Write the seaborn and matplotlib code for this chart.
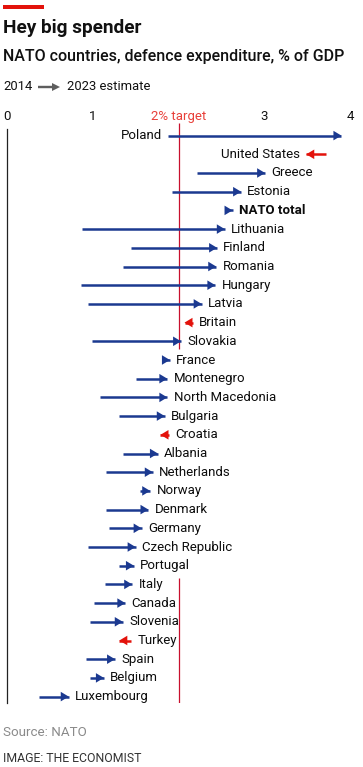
import matplotlib
matplotlib.use("Agg")
import matplotlib.pyplot as plt
from matplotlib.path import Path
from matplotlib.markers import MarkerStyle
from matplotlib.patches import Rectangle, FancyArrow
import seaborn as sns
import pandas as pd

countries = ["Poland", "United States", "Greece", "Estonia", "NATO total",
             "Lithuania", "Finland", "Romania", "Hungary", "Latvia", "Britain",
             "Slovakia", "France", "Montenegro", "North Macedonia", "Bulgaria",
             "Croatia", "Albania", "Netherlands", "Norway", "Denmark", "Germany",
             "Czech Republic", "Portugal", "Italy", "Canada", "Slovenia",
             "Turkey", "Spain", "Belgium", "Luxembourg"]
v2014 = [1.88, 3.72, 2.22, 1.93, 2.55, 0.88, 1.45, 1.35, 0.86, 0.94, 2.17,
         0.99, 1.81, 1.50, 1.09, 1.31, 1.89, 1.35, 1.15, 1.55, 1.15, 1.19,
         0.95, 1.31, 1.14, 1.01, 0.97, 1.45, 0.92, 0.97, 0.37]
v2023 = [3.90, 3.49, 3.01, 2.73, 2.63, 2.54, 2.45, 2.44, 2.43, 2.27, 2.07,
         2.03, 1.90, 1.87, 1.87, 1.84, 1.79, 1.76, 1.70, 1.67, 1.65, 1.57,
         1.50, 1.48, 1.46, 1.38, 1.35, 1.31, 1.26, 1.13, 0.72]
tick_values = [0, 1, 2, 3, 4]
tick_labels = ["0", "1", "2% target", "3", "4"]
target = 2.0
target_gap = ("Slovakia", "Italy")

BLUE = "#1b3990"
RED = "#e3120b"
LINE_RED = "#c8102e"

df = pd.DataFrame({"country": countries, "start": v2014, "end": v2023})
df["row"] = range(len(df))
df["up"] = df["end"] >= df["start"]

sns.set_theme(style="white")
plt.rcParams["font.family"] = ["Roboto", "DejaVu Sans"]

W, H = 363, 767
fig = plt.figure(figsize=(W / 100, H / 100), dpi=100)
ax_top, ax_bot = 129, 703
first_row, row_step = 135.6, 18.7
ax = fig.add_axes([7 / W, 1 - ax_bot / H, 343 / W, (ax_bot - ax_top) / H])
ax.set_xlim(0, 4)
ylo = (ax_bot - first_row) / row_step
yhi = -(first_row - ax_top) / row_step
ax.set_ylim(ylo, yhi)

# target line, interrupted where labels cross it
r_a = df.loc[df.country == target_gap[0], "row"].iloc[0]
r_b = df.loc[df.country == target_gap[1], "row"].iloc[0]
ax.vlines(target, yhi - 0.3, r_a + 0.42, color=LINE_RED, lw=0.9, clip_on=False, zorder=1)
ax.vlines(target, r_b - 0.35, ylo, color=LINE_RED, lw=0.9, zorder=1)

# shafts
for up, color in [(True, BLUE), (False, RED)]:
    sub = df[df.up == up]
    ax.hlines(sub["row"], sub["start"], sub["end"], color=color, lw=1.8, zorder=3)

# heads (tip at data point)
right_head = MarkerStyle(Path([(0, 0), (-1, 0.6), (-1, -0.6), (0, 0)]))
left_head = MarkerStyle(Path([(0, 0), (1, 0.6), (1, -0.6), (0, 0)]))
sns.scatterplot(data=df[df.up], x="end", y="row", marker=right_head, s=11.5 ** 2,
                color=BLUE, edgecolor="none", linewidth=0, ax=ax, zorder=4, legend=False)
sns.scatterplot(data=df[~df.up], x="end", y="row", marker=left_head, s=11.5 ** 2,
                color=RED, edgecolor="none", linewidth=0, ax=ax, zorder=4, legend=False)

# labels
for _, r in df.iterrows():
    hi, lo = max(r.start, r.end), min(r.start, r.end)
    weight = "bold" if r.country == "NATO total" else "normal"
    if hi > 3.4:
        ax.annotate(r.country, (lo, r.row), xytext=(-4.5, 0), textcoords="offset points",
                    ha="right", va="center", fontsize=9.5, color="#0d0d0d", fontweight=weight)
    else:
        ax.annotate(r.country, (hi, r.row), xytext=(4.5, 0), textcoords="offset points",
                    ha="left", va="center", fontsize=9.5, color="#0d0d0d", fontweight=weight)

# axes styling
for s in ["top", "right", "bottom"]:
    ax.spines[s].set_visible(False)
ax.spines["left"].set_color("#222222")
ax.spines["left"].set_linewidth(0.9)
ax.set_yticks([])
ax.xaxis.tick_top()
ax.set_xticks(tick_values)
ax.set_xticklabels(tick_labels)
ax.tick_params(axis="x", length=0, pad=4, labelsize=9.5, labelcolor="#111111")
for lab in ax.get_xticklabels():
    if "target" in lab.get_text():
        lab.set_color("#e8403a")
ax.set_xlabel("")
ax.set_ylabel("")
ax.grid(False)
ax.set_facecolor("none")

# header
fig.patches.append(Rectangle((3 / W, 1 - 9 / H), 41 / W, 4 / H, transform=fig.transFigure,
                             color=RED, lw=0))
fig.text(3 / W, 1 - 28 / H, "Hey big spender", fontsize=13.7, fontweight="bold",
         va="center", ha="left", color="#111111")
fig.text(3 / W, 1 - 57 / H, "NATO countries, defence expenditure, % of GDP",
         fontsize=11.5, fontweight="medium", va="center", ha="left", color="#111111")
fig.text(3 / W, 1 - 87 / H, "2014", fontsize=9.4, va="center", ha="left", color="#111111")
fig.patches.append(FancyArrow(38 / W, 1 - 87 / H, 22 / W, 0, width=2.4 / H,
                              head_width=8 / H, head_length=8 / W, length_includes_head=True,
                              transform=fig.transFigure, color="#5e5e5e", lw=0))
fig.text(67 / W, 1 - 87 / H, "2023 estimate", fontsize=9.4, va="center", ha="left", color="#111111")

fig.text(3 / W, 1 - 732 / H, "Source: NATO", fontsize=9.6, va="center", ha="left", color="#8a8a8a")
fig.text(3 / W, 1 - 759 / H, "IMAGE: THE ECONOMIST", fontsize=8.8, va="center", ha="left",
         color="#333333")

fig.savefig("out.png", dpi=100)
